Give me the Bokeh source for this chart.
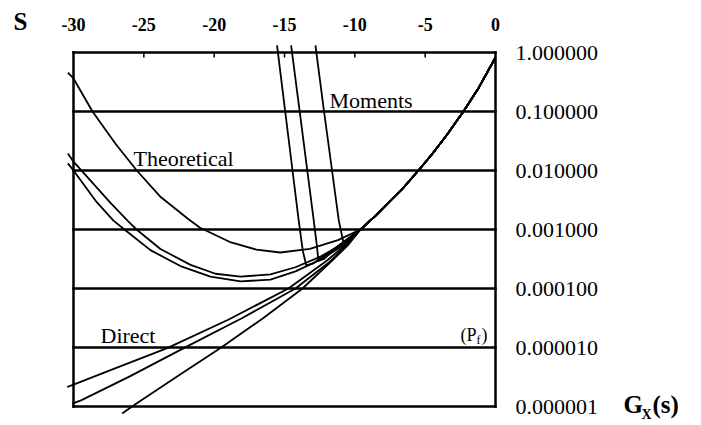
import math
from bokeh.plotting import figure
from bokeh.models import Range1d
from bokeh.embed import file_html
from bokeh.resources import INLINE
from bokeh.core.properties import value

# ---- axis ticks ----
x_ticks = [-30, -25, -20, -15, -10, -5, 0]
y_ticks = [1e-6, 1e-5, 1e-4, 1e-3, 1e-2, 1e-1, 1.0]

# ---- common right-hand branch (all approximations merge here) ----
main_s = [-9.6, -8.5, -7.5, -6.5, -5.48, -4.5, -3.5, -2.28, -1.2, 0.0]
main_g = [0.001, 0.001738, 0.003020, 0.005248, 0.01, 0.01905, 0.03890, 0.1, 0.2512, 0.8222]

# ---- "Theoretical" curves ----
theo1_s = [-30.4, -30, -28.65, -27, -25.5, -23.8, -21.8, -21, -18.8, -17, -15.3, -13.2, -11.2]
theo1_g = [0.4571, 0.3631, 0.1, 0.02818, 0.01, 0.003548, 0.001479, 0.001072,
           6.026e-4, 4.571e-4, 4.074e-4, 4.677e-4, 6.607e-4]
theo2_s = [-30.4, -30, -27.37, -26.16, -25.52, -23.82, -21.68, -19.9, -18.13, -16.0, -14.22, -12.44, -10.67]
theo2_g = [0.01950, 0.01413, 0.002818, 0.001413, 0.001, 4.677e-4, 2.512e-4, 1.778e-4,
           1.585e-4, 1.738e-4, 2.291e-4, 3.467e-4, 6.026e-4]
theo3_s = [-30.4, -30, -28.44, -27.16, -26.38, -24.53, -22.4, -20.26, -18.13, -16.0, -14.22, -12.44, -10.67]
theo3_g = [0.01318, 0.01, 0.003090, 0.001413, 0.001, 4.467e-4, 2.399e-4, 1.585e-4,
           1.318e-4, 1.413e-4, 1.950e-4, 3.090e-4, 5.623e-4]

# ---- "Moments" curves ----
mom1_s = [-15.53, -14.96, -14.43, -13.99, -13.7, -13.45, -13.0, -12.2, -11.2, -10.3]
mom1_g = [1.318, 0.1047, 0.01, 0.001413, 4.365e-4, 2.455e-4, 2.630e-4, 3.548e-4, 5.248e-4, 7.586e-4]
mom2_s = [-14.53, -13.93, -13.38, -12.92, -12.7, -12.59, -12.2, -11.4, -10.5]
mom2_g = [1.318, 0.1047, 0.01, 0.001413, 5.370e-4, 2.951e-4, 3.162e-4, 4.677e-4, 6.761e-4]
mom3_s = [-12.8, -12.2, -11.62, -11.14, -10.81, -10.3]
mom3_g = [1.318, 0.1047, 0.01, 0.001413, 6.026e-4, 7.413e-4]

# ---- "Direct" curves ----
dir1_s = [-30.45, -30, -27, -23.34, -19, -14.72, -12, -10.5]
dir1_g = [2.138e-6, 2.344e-6, 4.467e-6, 9.772e-6, 2.951e-5, 1e-4, 2.951e-4, 5.888e-4]
dir2_s = [-30.1, -29.5, -26, -22.16, -18, -14.22, -11.8, -10.5]
dir2_g = [1.122e-6, 1.259e-6, 3.236e-6, 9.772e-6, 3.162e-5, 1e-4, 2.818e-4, 5.623e-4]
dir3_s = [-26.54, -25.71, -22.5, -19.55, -16.5, -13.72, -11.5, -10.5]
dir3_g = [7.586e-7, 1.047e-6, 3.388e-6, 9.772e-6, 3.162e-5, 1e-4, 3.162e-4, 5.370e-4]

series = [
    (theo1_s, theo1_g), (theo2_s, theo2_g), (theo3_s, theo3_g),
    (mom1_s, mom1_g), (mom2_s, mom2_g), (mom3_s, mom3_g),
    (dir1_s, dir1_g), (dir2_s, dir2_g), (dir3_s, dir3_g),
]

SERIF = "Liberation Serif"

# ---- layout: the plotting box occupies these pixels of the canvas ----
W, H = 701, 425
BOX_L, BOX_R, BOX_T, BOX_B = 73, 495, 52, 406
x_span = x_ticks[-1] - x_ticks[0]
decades = math.log10(y_ticks[-1] / y_ticks[0])
px_s = (BOX_R - BOX_L) / x_span
px_dec = (BOX_B - BOX_T) / decades
x_lo = x_ticks[0] - BOX_L / px_s
x_hi = x_ticks[-1] + (W - BOX_R) / px_s
y_lo = y_ticks[0] * 10 ** (-(H - BOX_B) / px_dec)
y_hi = y_ticks[-1] * 10 ** (BOX_T / px_dec)


def at_x(px):
    """canvas pixel column -> s value (for placing texts)"""
    return x_ticks[0] + (px - BOX_L) / px_s


def at_y(py):
    """canvas pixel row -> G value (for placing texts)"""
    return y_ticks[-1] * 10 ** (-(py - BOX_T) / px_dec)


p = figure(width=W, height=H, output_backend="svg", toolbar_location=None,
           title=None, x_range=Range1d(x_lo, x_hi), y_range=Range1d(y_lo, y_hi),
           y_axis_type="log", x_axis_location=None, y_axis_location=None)
p.min_border = 0
p.outline_line_color = None
p.background_fill_color = "white"
p.border_fill_color = "white"
p.xgrid.visible = False
p.ygrid.visible = False

n_y = len(y_ticks)
# horizontal decade lines (top and bottom ones form the box edges)
p.segment(x0=[x_ticks[0]] * n_y, x1=[x_ticks[-1]] * n_y, y0=y_ticks, y1=y_ticks,
          line_color="black", line_width=2.5, line_cap="square")
# box sides
p.segment(x0=[x_ticks[0], x_ticks[-1]], x1=[x_ticks[0], x_ticks[-1]],
          y0=[y_ticks[0]] * 2, y1=[y_ticks[-1]] * 2,
          line_color="black", line_width=2.5, line_cap="square")
# inward ticks on top edge
tick_end = y_ticks[-1] * 10 ** (-5 / px_dec)
inner = x_ticks[1:-1]
p.segment(x0=inner, x1=inner, y0=[y_ticks[-1]] * len(inner), y1=[tick_end] * len(inner),
          line_color="black", line_width=1.5)

for s_vals, g_vals in series:
    p.line(list(s_vals) + main_s, list(g_vals) + main_g,
           line_color="black", line_width=1.8, line_join="round")

# tick labels
p.text(x=x_ticks, y=[at_y(24)] * len(x_ticks), text=[str(t) for t in x_ticks],
       text_font=value(SERIF), text_font_style="bold", text_font_size="18px",
       text_color="black", text_align="center", text_baseline="middle")
p.text(x=[at_x(515)] * n_y, y=y_ticks, text=[f"{v:.6f}" for v in y_ticks],
       text_font=value(SERIF), text_font_size="22px",
       text_color="black", text_align="left", text_baseline="middle")

# curve labels
txt = dict(text_font=value(SERIF), text_font_size="22px", text_color="black",
           text_baseline="middle", text_align="left")
p.text(x=[at_x(329)], y=[at_y(100)], text=["Moments"], **txt)
p.text(x=[at_x(133)], y=[at_y(158)], text=["Theoretical"], **txt)
p.text(x=[at_x(100)], y=[at_y(335)], text=["Direct"], **txt)

small = dict(text_font=value(SERIF), text_color="black",
             text_baseline="middle", text_align="left")
p.text(x=[at_x(460)], y=[at_y(334)], text=["(P"], text_font_size="18px", **small)
p.text(x=[at_x(476)], y=[at_y(339)], text=["f"], text_font_size="12px", **small)
p.text(x=[at_x(481)], y=[at_y(334)], text=[")"], text_font_size="18px", **small)

# axis titles
big = dict(text_font=value(SERIF), text_font_style="bold", text_color="black",
           text_baseline="middle", text_align="left")
p.text(x=[at_x(13)], y=[at_y(21)], text=["S"], text_font_size="25px", **big)
p.text(x=[at_x(623)], y=[at_y(404)], text=["G"], text_font_size="25px", **big)
p.text(x=[at_x(641)], y=[at_y(414)], text=["X"], text_font_size="14px", **big)
p.text(x=[at_x(652)], y=[at_y(404)], text=["(s)"], text_font_size="25px", **big)

open("out.html", "w").write(file_html(p, INLINE))
